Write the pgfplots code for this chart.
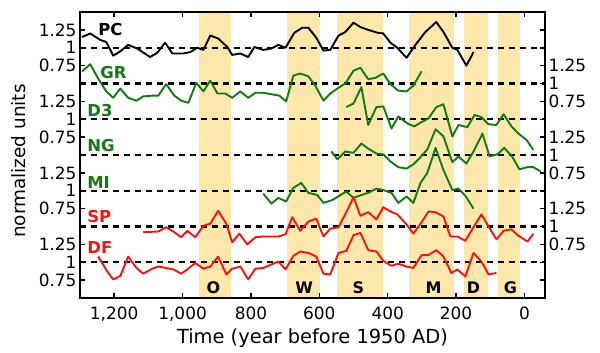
\documentclass[border=0pt]{standalone}
\usepackage{fontspec}
\setmainfont{DejaVu Sans}
\usepackage{pgfplots}
\pgfplotsset{compat=1.18}
\definecolor{band}{RGB}{253,231,170}
\definecolor{dgreen}{RGB}{18,122,18}
\definecolor{dred}{RGB}{245,20,20}
\tikzset{dl/.style={line width=1.9bp, line join=round}}
\begin{document}
\begin{tikzpicture}
\useasboundingbox (-80bp,-55bp) rectangle (520bp,298bp);
\begin{axis}[at={(0,0)}, anchor=south west, scale only axis, width=465bp, height=286bp,
  xmin=-60, xmax=1300, x dir=reverse, ymin=-2.5, ymax=1.5,
  axis on top, axis line style={line width=2.2bp},
  major tick length=5bp, every tick/.style={black, line width=1.5bp},
  xtick={0,200,400,600,800,1000,1200}, xticklabels={0,200,400,600,800,{1,000},{1,200}},
  ytick={-2.25,-2,-1.75,-1.25,-1,-0.75,-0.25,0,0.25,0.75,1,1.25},
  yticklabels={0.75,1,1.25,0.75,1,1.25,0.75,1,1.25,0.75,1,1.25},
  tick label style={font=\fontsize{17}{19}\selectfont},
  xticklabel style={yshift=-5bp},
  xlabel={Time (year before 1950 AD)}, ylabel={normalized units},
  label style={font=\fontsize{18.5}{20}\selectfont},
  xlabel style={at={(axis description cs:0.5,-0.14)}, anchor=center, font=\fontsize{19.5}{21}\selectfont},
  ylabel style={at={(axis description cs:-0.131,0.479)}, anchor=center},
]
\fill[band] (axis cs:951,-2.5) rectangle (axis cs:857,1.5);
\fill[band] (axis cs:694,-2.5) rectangle (axis cs:597,1.5);
\fill[band] (axis cs:547,-2.5) rectangle (axis cs:413,1.5);
\fill[band] (axis cs:339,-2.5) rectangle (axis cs:205,1.5);
\fill[band] (axis cs:176,-2.5) rectangle (axis cs:108,1.5);
\fill[band] (axis cs:76,-2.5) rectangle (axis cs:12,1.5);
\foreach \yy in {1,0.5,0,-0.5,-1,-1.5,-2}{
  \edef\temp{\noexpand\addplot[black, line width=2.1bp, dash pattern=on 6.5bp off 4.5bp] coordinates {(1300,\yy) (-60,\yy)};}
  \temp
}
% PC
\addplot[black, dl] table[x=t, y expr=\thisrow{v}] {
t v
1294 1.15
1270 1.20
1241 1.11
1223 1.08
1203 0.89
1185 0.94
1159 1.04
1133 0.99
1095 0.87
1074 0.93
1051 1.07
1030 0.92
998 0.92
977 0.94
957 1.00
939 0.97
919 1.17
896 1.13
869 1.01
855 0.90
831 0.92
808 0.87
790 1.01
764 0.97
740 0.99
720 1.04
699 1.00
673 1.21
650 1.28
632 1.28
609 1.14
588 0.96
568 0.97
544 1.17
524 1.22
500 1.35
480 1.29
457 1.25
430 1.21
413 1.20
392 1.07
372 1.00
345 0.86
319 1.04
290 1.22
258 1.36
237 1.22
211 1.00
196 0.97
170 0.75
149 0.94
};
% GR
\addplot[dgreen, dl] table[x=t, y expr=\thisrow{v}-0.5] {
t v
1294 1.17
1270 1.27
1247 1.07
1223 0.89
1203 0.80
1182 0.93
1159 0.80
1135 0.76
1115 0.82
1089 0.83
1071 0.83
1048 0.99
1024 0.83
1004 0.76
983 0.73
960 1.01
939 0.89
919 1.04
898 0.86
875 0.86
855 0.80
831 0.89
808 0.80
787 0.87
764 0.87
740 0.85
717 0.83
697 0.75
676 1.11
656 1.14
632 1.10
612 0.97
588 0.76
568 0.86
544 0.94
524 1.00
500 1.18
480 1.22
457 1.06
436 1.08
413 1.14
392 0.99
369 0.90
345 0.89
325 0.97
301 1.17
};
% D3
\addplot[dgreen, dl] table[x=t, y expr=\thisrow{v}-1.0] {
t v
521 1.17
500 1.22
477 1.45
457 0.92
433 1.17
413 1.18
389 0.87
369 1.04
342 0.94
322 0.90
301 0.96
281 1.01
258 1.17
237 1.21
211 0.76
193 0.92
167 0.89
146 1.06
126 1.03
105 0.93
82 0.92
61 1.07
38 0.90
15 0.79
-6 0.71
-26 0.57
};
% NG
\addplot[dgreen, dl] table[x=t, y expr=\thisrow{v}-1.5] {
t v
565 1.05
547 0.94
524 1.05
500 1.03
477 1.16
457 1.09
433 1.02
413 1.01
392 0.91
369 0.83
345 0.81
325 0.87
304 0.97
284 1.08
260 1.36
237 1.26
211 0.90
193 0.98
170 0.88
149 1.05
123 1.30
102 0.98
79 1.01
59 1.10
35 0.97
15 0.80
-9 0.83
-26 0.83
-47 0.77
};
% MI
\addplot[dgreen, dl] table[x=t, y expr=\thisrow{v}-2.0] {
t v
764 0.96
740 0.82
720 0.90
697 0.85
676 1.04
653 1.11
632 0.97
606 0.94
588 0.83
562 0.87
521 0.99
500 0.90
477 0.94
457 0.97
433 1.03
413 1.01
389 0.97
369 0.83
345 0.92
325 0.83
304 1.11
284 1.25
260 1.60
237 1.29
211 1.01
193 1.03
173 0.93
149 0.75
};
% SP
\addplot[dred, dl] table[x=t, y expr=\thisrow{v}-2.5] {
t v
1115 0.92
1071 0.93
1048 0.99
1027 0.93
1004 0.85
986 0.94
963 0.85
939 1.01
919 1.04
896 1.22
872 1.04
855 0.78
834 0.90
811 0.75
787 0.85
764 0.86
740 0.86
720 0.86
699 0.89
679 1.13
656 0.94
632 1.07
609 1.11
588 0.86
568 0.97
544 0.99
521 1.20
500 1.41
480 1.15
457 1.20
433 1.10
413 1.27
392 1.21
372 1.17
345 1.03
325 0.90
301 1.06
281 1.21
260 1.20
237 1.14
217 0.86
196 0.86
173 0.80
149 0.99
126 1.17
105 1.00
82 0.82
61 0.94
38 0.96
18 0.87
-9 0.79
-26 0.90
};
% DF
\addplot[dred, dl] table[x=t, y expr=\thisrow{v}-3.0] {
t v
1247 1.08
1220 0.87
1203 0.76
1182 0.81
1159 1.08
1135 0.92
1115 0.84
1089 0.91
1071 0.94
1048 0.92
1027 0.90
1004 0.84
986 0.90
963 0.99
939 0.91
919 0.94
896 1.08
872 0.83
855 0.91
831 0.94
808 0.76
787 0.91
764 0.92
740 0.97
720 1.01
699 0.90
676 1.09
656 1.15
632 1.13
609 1.08
588 0.84
568 0.83
544 1.13
521 1.16
500 1.38
480 1.41
457 1.17
433 1.15
413 1.02
389 0.95
369 0.98
345 0.94
325 0.92
301 1.10
281 1.10
258 1.17
237 1.08
214 0.85
196 0.90
173 0.80
149 1.13
126 1.01
105 0.83
82 0.85
};
\tikzset{lab/.style={anchor=west, font=\bfseries\fontsize{16.5}{18}\selectfont, inner sep=0pt}}
\node[lab, text=black] at (axis cs:1247,1.25) {PC};
\node[lab, text=dgreen] at (axis cs:1241,0.65) {GR};
\node[lab, text=dgreen] at (axis cs:1279,0.12) {D3};
\node[lab, text=dgreen] at (axis cs:1279,-0.37) {NG};
\node[lab, text=dgreen] at (axis cs:1279,-0.89) {MI};
\node[lab, text=dred] at (axis cs:1279,-1.36) {SP};
\node[lab, text=dred] at (axis cs:1279,-1.80) {DF};
\tikzset{blab/.style={font=\bfseries\fontsize{16}{18}\selectfont, inner sep=0pt}}
\node[blab] at (axis cs:910,-2.357) {O};
\node[blab] at (axis cs:644,-2.357) {W};
\node[blab] at (axis cs:486,-2.357) {S};
\node[blab] at (axis cs:266,-2.357) {M};
\node[blab] at (axis cs:149,-2.357) {D};
\node[blab] at (axis cs:41,-2.357) {G};
\end{axis}
\begin{axis}[at={(0,0)}, anchor=south west, scale only axis, width=465bp, height=286bp,
  xmin=-60, xmax=1300, x dir=reverse, ymin=-2.5, ymax=1.5,
  axis x line=none, axis y line*=right, axis line style={line width=2.2bp},
  major tick length=5bp, every tick/.style={black, line width=1.5bp},
  ytick pos=right,
  ytick={-1.75,-1.5,-1.25,-0.75,-0.5,-0.25,0.25,0.5,0.75},
  yticklabels={0.75,1,1.25,0.75,1,1.25,0.75,1,1.25},
  tick label style={font=\fontsize{17}{19}\selectfont},
]
\end{axis}
\end{tikzpicture}
\end{document}
